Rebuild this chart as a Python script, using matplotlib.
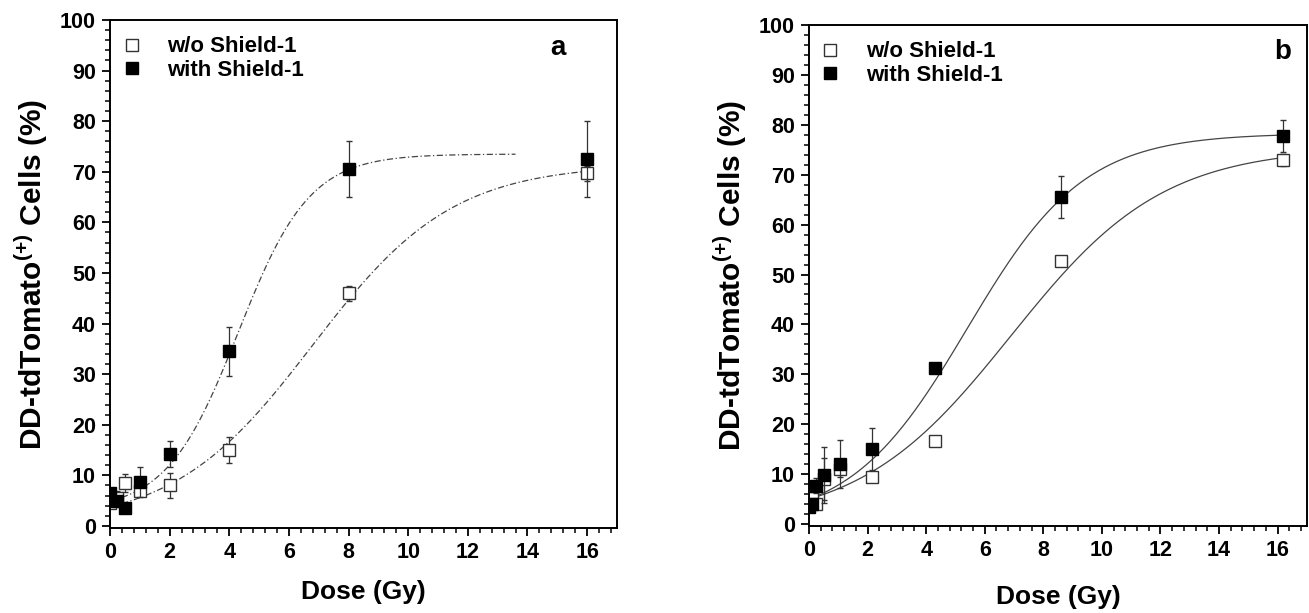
import numpy as np
import matplotlib
matplotlib.use("Agg")
import matplotlib.pyplot as plt
from matplotlib.lines import Line2D
from matplotlib.ticker import MultipleLocator

plt.rcParams["font.family"] = ["Liberation Sans", "DejaVu Sans"]
plt.rcParams["font.weight"] = "bold"
plt.rcParams["mathtext.fontset"] = "custom"
plt.rcParams["mathtext.rm"] = "Liberation Sans"
plt.rcParams["mathtext.bf"] = "Liberation Sans:bold"

# panel a
dose_a = [0, 0.25, 0.5, 1, 2, 4, 8, 16]
wo_a = [4.5, 5.5, 8.5, 7.0, 8.0, 15.0, 46.0, 69.7]
wo_a_err = [1.0, 1.5, 1.8, 1.0, 2.5, 2.6, 1.5, 1.5]
with_a = [6.5, 5.0, 3.5, 8.7, 14.2, 34.5, 70.5, 72.6]
with_a_err = [1.0, 1.0, 1.0, 3.0, 2.5, 4.8, 5.5, 7.5]

# panel b
dose_b = [0, 0.1, 0.25, 0.5, 1.05, 2.15, 4.3, 8.6, 16.2]
wo_b = [4.0, 5.3, 4.0, 9.0, 11.0, 9.5, 16.7, 52.7, 73.0]
wo_b_err = [0.5, 1.5, 1.0, 4.2, 1.5, 0.8, 0.8, 0.8, 1.2]
with_b = [3.5, 4.0, 7.7, 9.9, 12.1, 15.1, 31.3, 65.5, 77.7]
with_b_err = [0.5, 1.0, 1.5, 5.6, 4.8, 4.2, 0.8, 4.2, 3.2]

# Boltzmann fit parameters (A1, A2, x0, dx, x_end)
fit_a_with = (3.0, 73.5, 4.3, 1.2, 13.6)
fit_a_wo = (0.0, 71.5, 6.8, 2.35, 16.0)
fit_b_with = (0.0, 78.3, 5.4, 2.0, 16.2)
fit_b_wo = (0.0, 75.5, 6.9, 2.6, 16.2)

x_ticks = [0, 2, 4, 6, 8, 10, 12, 14, 16]
y_ticks = [0, 10, 20, 30, 40, 50, 60, 70, 80, 90, 100]


def boltzmann(x, a1, a2, x0, dx):
    return a2 + (a1 - a2) / (1 + np.exp((x - x0) / dx))


def draw_panel(ax, dose, wo, wo_err, wi, wi_err, fit_wi, fit_wo, ls, tag, tag_pos, xpad):
    for p in (fit_wi, fit_wo):
        xx = np.linspace(0, p[4], 300)
        ax.plot(xx, boltzmann(xx, *p[:4]), color="#444444", lw=0.9, ls=ls, zorder=1)
    ax.errorbar(dose, wo, yerr=wo_err, fmt="s", ms=8.5, mfc="white", mec="#333333",
                mew=1.0, ecolor="#333333", elinewidth=0.9, capsize=2.5, zorder=2)
    ax.errorbar(dose, wi, yerr=wi_err, fmt="s", ms=8.5, mfc="black", mec="black",
                ecolor="#333333", elinewidth=0.9, capsize=2.5, zorder=3)
    ax.set_xlim(0, 17)
    ax.set_ylim(-0.4, 100)
    ax.set_xticks(x_ticks)
    ax.set_yticks(y_ticks)
    ax.xaxis.set_minor_locator(MultipleLocator(0.4))
    ax.yaxis.set_minor_locator(MultipleLocator(2))
    ax.tick_params(which="major", direction="out", length=6, width=1.3, labelsize=15.5, pad=4)
    ax.tick_params(which="minor", direction="out", length=3.5, width=1.1)
    for s in ax.spines.values():
        s.set_linewidth(1.4)
    ax.set_xlabel("Dose (Gy)", fontsize=19, fontweight="bold", labelpad=xpad)
    ax.set_ylabel(r"DD-tdTomato$^{(+)}$ Cells (%)", fontsize=21.5, fontweight="bold", labelpad=7)
    ax.text(tag_pos[0], tag_pos[1], tag, transform=ax.transAxes, fontsize=20,
            fontweight="bold", ha="center", va="center")
    handles = [
        Line2D([], [], ls="none", marker="s", ms=8.5, mfc="white", mec="#333333"),
        Line2D([], [], ls="none", marker="s", ms=8.5, mfc="black", mec="black"),
    ]
    ax.legend(handles, ["w/o Shield-1", "with Shield-1"], loc="upper left",
              bbox_to_anchor=(0.012, 0.985), frameon=False, fontsize=16,
              handlelength=0.6, handletextpad=1.3, labelspacing=0.12, borderaxespad=0)


fig = plt.figure(figsize=(13.09, 6.13), dpi=100)
ax1 = fig.add_axes([0.0840, 0.1387, 0.3873, 0.8287])
ax2 = fig.add_axes([0.6180, 0.1419, 0.3804, 0.8173])

draw_panel(ax1, dose_a, wo_a, wo_a_err, with_a, with_a_err, fit_a_with, fit_a_wo,
           (0, (5, 2, 1, 2)), "a", (0.884, 0.945), 12)
draw_panel(ax2, dose_b, wo_b, wo_b_err, with_b, with_b_err, fit_b_with, fit_b_wo,
           "-", "b", (0.952, 0.946), 17)

plt.savefig("out.png", dpi=100)
